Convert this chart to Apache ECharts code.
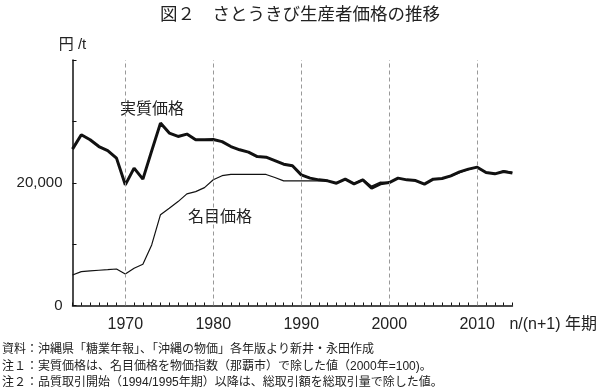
<!DOCTYPE html>
<html><head><meta charset="utf-8">
<script src="https://cdn.jsdelivr.net/npm/echarts@6/dist/echarts.min.js"></script>
<style>html,body{margin:0;padding:0;background:#fff}#c{width:600px;height:392px}</style>
</head><body><div id="c"></div>
<script>
const years = [];
for (let y = 1964; y <= 2014; y++) years.push(y);
const realPrice = [25480,27810,27000,25900,25250,24010,19660,22380,20590,25200,
  29720,28090,27540,27930,27000,27000,27050,26700,25900,25370,
  24990,24270,24170,23620,23030,22760,21290,20750,20470,20310,
  19930,20590,19820,20470,19120,19820,20030,20750,20470,20360,
  19770,20590,20690,21130,21780,22220,22540,21660,21450,21830,21570];
const nominalPrice = [4975,5510,5630,5740,5840,5950,5140,6070,6720,9870,
  14800,15850,16930,18190,18560,19200,20500,21150,21350,21350,
  21350,21350,21350,20850,20310,20310,20310,20310,20310,20310,
  19930,20590,19900,20550,19450,20100,20030,20750,20470,20360,
  19770,20590,20690,21050,21650,22150,22540,21660,21450,21950,21750];
const decadeLines = [1970,1980,1990,2000,2010];
const yTickLabels = {0:'0', 20000:'20,000'};
const seriesNames = ['実質価格','名目価格'];
const titleText = '図２　さとうきび生産者価格の推移';
const yUnit = '円 /t';
const xUnit = 'n/(n+1) 年期';
const notes = ['資料：沖縄県「糖業年報」、「沖縄の物価」各年版より新井・永田作成',
  '注１：実質価格は、名目価格を物価指数（那覇市）で除した値（2000年=100)。',
  '注２：品質取引開始（1994/1995年期）以降は、総取引額を総取引量で除した値。'];

const FF = "'Liberation Sans','Noto Sans CJK JP',sans-serif";
const chart = echarts.init(document.getElementById('c'), null, {renderer:'canvas'});
const pair = (arr) => years.map((y,i)=>[y, arr[i]]);
chart.setOption({
  animation:false,
  backgroundColor:'#fff',
  textStyle:{fontFamily:FF},
  title:{text:titleText, left:'center', top:1, textStyle:{fontFamily:FF, fontSize:17.5, fontWeight:'normal', color:'#222'}},
  grid:{left:72.5, right:87.5, top:60, bottom:86.5, containLabel:false},
  xAxis:{type:'value', min:1964, max:2014, interval:1,
    name:xUnit, nameLocation:'end', nameGap:-3,
    nameTextStyle:{fontFamily:FF, fontSize:16, color:'#222', align:'left', verticalAlign:'top', padding:[11,0,0,0]},
    axisLine:{lineStyle:{color:'#111', width:1.5}},
    axisTick:{inside:true, length:3, lineStyle:{color:'#111', width:1}},
    axisLabel:{fontFamily:FF, fontSize:16, color:'#222', margin:11, formatter:(v)=> (v%10===0 && v>=1970 && v<=2010) ? String(v) : ''},
    splitLine:{show:false}},
  yAxis:{type:'value', min:0, max:40000, interval:10000,
    name:yUnit, nameLocation:'end', nameGap:8,
    nameTextStyle:{fontFamily:FF, fontSize:15, color:'#222', align:'center'},
    axisLine:{show:true, lineStyle:{color:'#111', width:1.5}},
    axisTick:{show:true, inside:true, length:4, lineStyle:{color:'#111', width:1}},
    axisLabel:{fontFamily:FF, fontSize:15, color:'#222', margin:10, formatter:(v)=> yTickLabels[v] !== undefined ? yTickLabels[v] : ''},
    splitLine:{show:false}},
  series:[
    {name:seriesNames[1], type:'line', data:pair(nominalPrice), symbol:'none', smooth:false,
     lineStyle:{color:'#111', width:1.2}, z:2},
    {name:seriesNames[0], type:'line', data:pair(realPrice), symbol:'none', smooth:false,
     lineStyle:{color:'#111', width:3}, z:3,
     markLine:{silent:true, symbol:'none', label:{show:false},
       lineStyle:{color:'#999', type:[4,3], width:1},
       data:decadeLines.map(v=>({xAxis:v}))}}
  ],
  graphic:[
    {type:'text', left:120, top:102, style:{text:seriesNames[0], font:"16px "+FF, fill:'#222'}},
    {type:'text', left:188, top:210, style:{text:seriesNames[1], font:"16px "+FF, fill:'#222'}},
    {type:'text', left:2, top:344, style:{text:notes[0], font:"12px "+FF, fill:'#222'}},
    {type:'text', left:2, top:361, style:{text:notes[1], font:"12px "+FF, fill:'#222'}},
    {type:'text', left:2, top:377, style:{text:notes[2], font:"12px "+FF, fill:'#222'}}
  ]
});
</script></body></html>
